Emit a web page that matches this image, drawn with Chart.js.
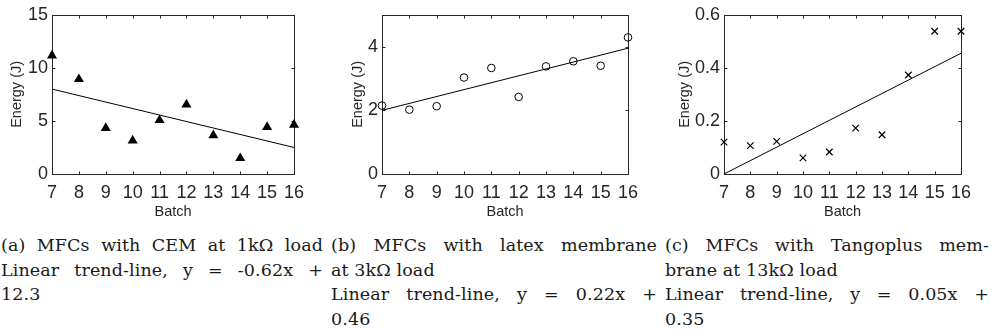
<!DOCTYPE html>
<html>
<head>
<meta charset="utf-8">
<script src="https://cdn.jsdelivr.net/npm/chart.js@4/dist/chart.umd.min.js"></script>
<style>
  body { margin: 0; background: #fff; width: 993px; height: 333px; overflow: hidden; position: relative; }
  .plot { position: absolute; top: 0; }
  .cap { position: absolute; top: 233px; font-family: "DejaVu Serif", serif; font-size: 17.5px; letter-spacing: 0.1px; line-height: 24.5px; color: #1a1a1a; }
  .cap div { white-space: nowrap; }
  .cap div.j { white-space: normal; text-align: justify; text-align-last: justify; }
</style>
</head>
<body>
<canvas id="chartA" class="plot" width="330" height="224" style="left:0px"></canvas>
<canvas id="chartB" class="plot" width="330" height="224" style="left:330px"></canvas>
<canvas id="chartC" class="plot" width="333" height="224" style="left:660px"></canvas>

<div class="cap" style="left:1px;width:322px">
  <div class="j">(a) MFCs with CEM at 1kΩ load</div>
  <div class="j">Linear trend-line, y = -0.62x +</div>
  <div>12.3</div>
</div>
<div class="cap" style="left:331px;width:326px">
  <div class="j">(b) MFCs with latex membrane</div>
  <div>at 3kΩ load</div>
  <div class="j">Linear trend-line, y = 0.22x +</div>
  <div>0.46</div>
</div>
<div class="cap" style="left:665px;width:324px">
  <div class="j">(c) MFCs with Tangoplus mem-</div>
  <div>brane at 13kΩ load</div>
  <div class="j">Linear trend-line, y = 0.05x +</div>
  <div>0.35</div>
</div>

<script>
// values
const batches = [7, 8, 9, 10, 11, 12, 13, 14, 15, 16];
const energyCEM = [11.15, 8.93, 4.33, 3.14, 5.07, 6.54, 3.64, 1.49, 4.42, 4.64];
const energyLatex = [2.15, 2.02, 2.13, 3.03, 3.33, 2.42, 3.38, 3.54, 3.40, 4.29];
const energyTango = [0.120, 0.107, 0.123, 0.061, 0.083, 0.173, 0.148, 0.373, 0.538, 0.538];

// trend lines, start and end of each
const trendX = [7, 16];
const trendCEM = [8.0, 2.5];
const trendLatex = [2.0, 3.95];
const trendTango = [0.0, 0.455];

// y axis settings
const yMaxes = [15, 5, 0.6];
const ySteps = [5, 2, 0.2];

const axisColor = '#262626';

Chart.defaults.font.family = '"Liberation Sans", Arial, sans-serif';
Chart.defaults.color = axisColor;

function pts(xs, ys) {
  return xs.map((x, i) => ({ x: x, y: ys[i] }));
}

// box with inward ticks on all four sides, like matlab
const frame = {
  id: 'frame',
  beforeDatasetsDraw(chart) {
    const ctx = chart.ctx;
    const a = chart.chartArea;
    const sx = chart.scales.x, sy = chart.scales.y;
    const l = Math.round(a.left) + 0.5, r = Math.round(a.right) + 0.5;
    const t = Math.round(a.top) + 0.5, b = Math.round(a.bottom) + 0.5;
    const tl = 3;
    ctx.save();
    ctx.strokeStyle = axisColor;
    ctx.lineWidth = 1;
    ctx.strokeRect(l, t, r - l, b - t);
    ctx.beginPath();
    sx.ticks.forEach(tk => {
      const px = Math.round(sx.getPixelForValue(tk.value)) + 0.5;
      ctx.moveTo(px, b); ctx.lineTo(px, b - tl);
      ctx.moveTo(px, t); ctx.lineTo(px, t + tl);
    });
    sy.ticks.forEach(tk => {
      const py = Math.round(sy.getPixelForValue(tk.value)) + 0.5;
      ctx.moveTo(l, py); ctx.lineTo(l + tl, py);
      ctx.moveTo(r, py); ctx.lineTo(r - tl, py);
    });
    ctx.stroke();
    ctx.restore();
  }
};

function makeChart(id, marker, values, trend, idx, lay) {
  const markerSet = {
    data: pts(batches, values),
    pointStyle: marker.style,
    pointRadius: marker.radius,
    pointBorderWidth: marker.border,
    pointBackgroundColor: marker.fill,
    pointBorderColor: '#000',
    clip: false
  };
  const trendSet = {
    data: pts(trendX, trend),
    showLine: true,
    borderColor: '#000',
    borderWidth: 1,
    pointRadius: 0,
    fill: false,
    clip: false
  };
  return new Chart(document.getElementById(id), {
    type: 'scatter',
    data: { datasets: [markerSet, trendSet] },
    options: {
      responsive: false,
      animation: false,
      devicePixelRatio: 1,
      layout: { padding: { left: lay.padLeft, right: lay.padRight, top: 13, bottom: 0 } },
      plugins: { legend: { display: false }, tooltip: { enabled: false } },
      scales: {
        x: {
          type: 'linear',
          min: 7,
          max: 16,
          grid: { display: false, drawTicks: false },
          border: { display: false },
          ticks: { stepSize: 1, padding: 8, font: { size: 18 }, color: axisColor },
          title: { display: true, text: 'Batch', font: { size: 14.5 }, padding: { top: 0, bottom: 3.6 }, color: axisColor },
          afterFit: s => { s.height = 50; }
        },
        y: {
          min: 0,
          max: yMaxes[idx],
          grid: { display: false, drawTicks: false },
          border: { display: false },
          ticks: {
            stepSize: ySteps[idx],
            includeBounds: false,
            padding: 4,
            font: { size: 18 },
            color: axisColor,
            callback: v => String(+v.toFixed(2))
          },
          title: { display: true, text: 'Energy (J)', font: { size: 14.5 }, padding: 0, color: axisColor },
          afterFit: s => { s.width = lay.yWidth; }
        }
      }
    },
    plugins: [frame]
  });
}

makeChart('chartA', { style: 'triangle', radius: 5.8, border: 0, fill: '#000' },
  energyCEM, trendCEM, 0, { padLeft: 8.3, yWidth: 43.7, padRight: 36 });
makeChart('chartB', { style: 'circle', radius: 3.8, border: 1, fill: 'rgba(0,0,0,0)' },
  energyLatex, trendLatex, 1, { padLeft: 19.3, yWidth: 32.7, padRight: 32 });
makeChart('chartC', { style: 'crossRot', radius: 4.6, border: 1.2, fill: '#000' },
  energyTango, trendTango, 2, { padLeft: 16.3, yWidth: 47.7, padRight: 32 });
</script>
</body>
</html>
